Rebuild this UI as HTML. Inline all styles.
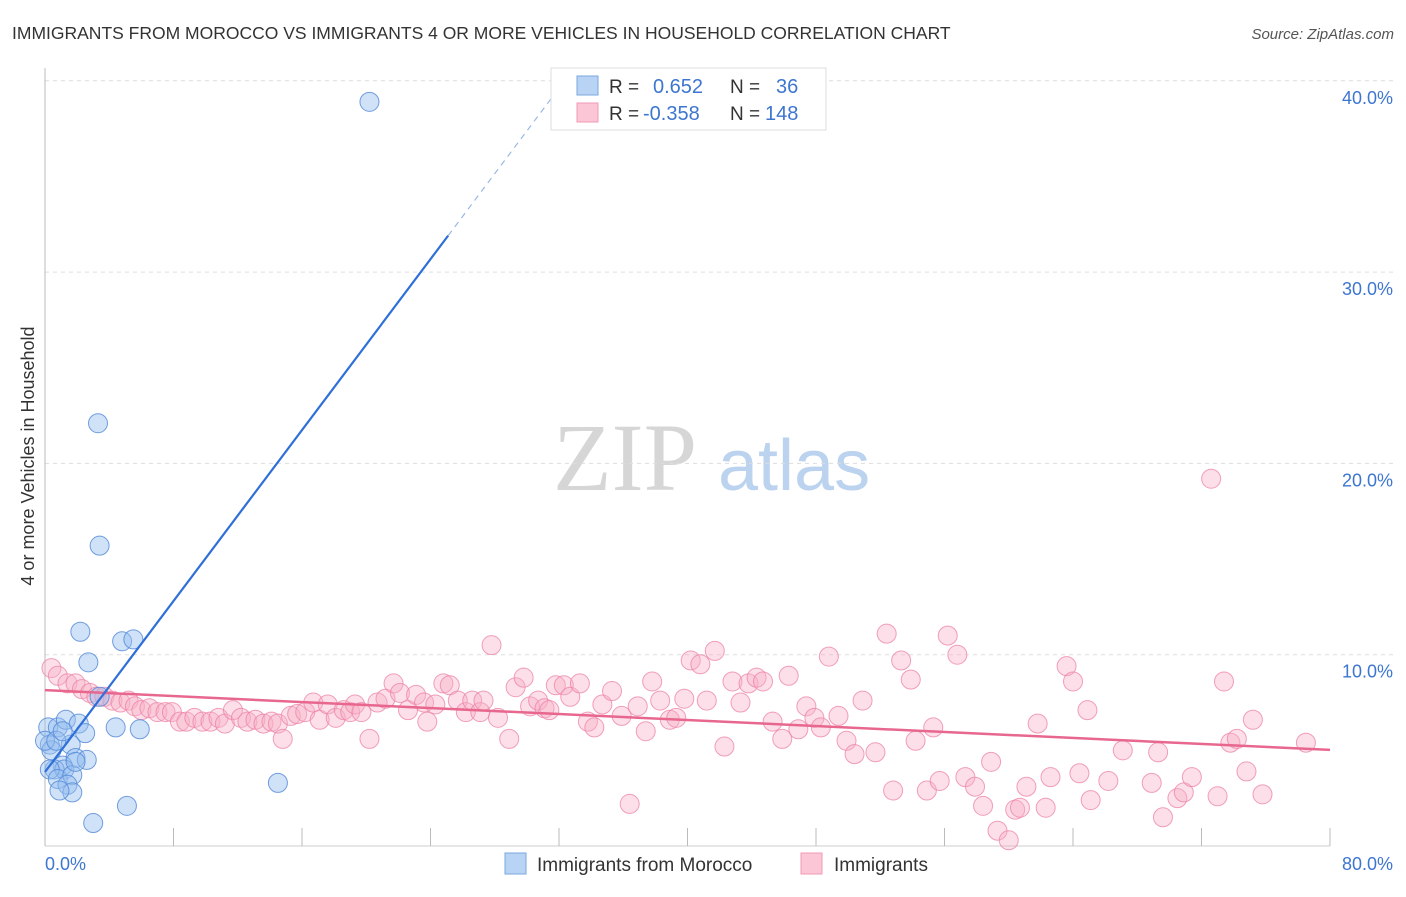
<!DOCTYPE html>
<html><head><meta charset="utf-8"><style>
body{margin:0;background:#fff;font-family:"Liberation Sans",sans-serif}
</style></head><body>
<svg id="chart" width="1406" height="892" xmlns="http://www.w3.org/2000/svg" font-family="Liberation Sans, sans-serif">
<text x="12" y="39" font-size="17.5" fill="#333">IMMIGRANTS FROM MOROCCO VS IMMIGRANTS 4 OR MORE VEHICLES IN HOUSEHOLD CORRELATION CHART</text>
<text x="1394" y="39" font-size="15" fill="#555" font-style="italic" text-anchor="end">Source: ZipAtlas.com</text>
<g>
<text x="553" y="490" font-size="96" font-family="Liberation Serif, serif" fill="#d6d6d6">ZIP</text>
<text x="718" y="490" font-size="72" fill="#bcd3ef">atlas</text>
</g>
<text transform="translate(34,456) rotate(-90)" font-size="18" fill="#333" text-anchor="middle">4 or more Vehicles in Household</text>
<g id="grid"></g><g id="axes"></g><g id="marks"></g>
<g>
<rect x="551" y="68" width="275" height="62" fill="#fff" stroke="#ddd"/>
<rect x="577" y="76" width="21" height="19" fill="#b9d3f5" stroke="#7aa7e0"/>
<rect x="577" y="103" width="21" height="19" fill="#fbc6d6" stroke="#f09ab5"/>
<text x="609" y="93" font-size="19" fill="#333">R =</text>
<text x="653" y="93" font-size="20" fill="#3d76d1">0.652</text>
<text x="730" y="93" font-size="19" fill="#333">N =</text>
<text x="776" y="93" font-size="20" fill="#3d76d1">36</text>
<text x="609" y="120" font-size="19" fill="#333">R =</text>
<text x="643" y="120" font-size="20" fill="#3d76d1">-0.358</text>
<text x="730" y="120" font-size="19" fill="#333">N =</text>
<text x="765" y="120" font-size="20" fill="#3d76d1">148</text>
</g>
<g>
<rect x="505" y="853" width="21" height="21" fill="#b9d3f5" stroke="#7aa7e0"/>
<text x="537" y="871" font-size="19" fill="#333">Immigrants from Morocco</text>
<rect x="801" y="853" width="21" height="21" fill="#fbc6d6" stroke="#f09ab5"/>
<text x="834" y="871" font-size="19" fill="#333">Immigrants</text>
</g>
</svg>
<script>
const yTicks=[10,20,30,40];
const yTickLabels=["10.0%","20.0%","30.0%","40.0%"];
const blueX=[20.2,3.3,3.4,2.2,4.8,5.5,2.7,0.2,0.8,1.3,2.1,2.5,4.4,5.9,0.3,1.6,0.4,1.9,1.1,0.6,1.2,0.3,0.8,1.7,1.4,1.7,0.9,14.5,5.1,3.0,0,3.4,2.6,0.7,1.9,1.1];
const blueY=[38.9,22.1,15.7,11.2,10.7,10.8,9.6,6.2,6.2,6.6,6.4,5.9,6.2,6.1,5.3,5.3,5.0,4.6,4.2,4.0,4.0,4.0,3.5,3.7,3.2,2.8,2.9,3.3,2.1,1.2,5.5,7.8,4.5,5.5,4.4,6.0];
const pinkX=[0.4,0.8,1.4,1.9,2.3,2.8,3.2,3.7,4.2,4.7,5.2,5.6,6.0,6.5,7.0,7.5,7.9,8.4,8.8,9.3,9.8,10.3,10.8,11.2,11.7,12.2,12.6,13.1,13.6,14.1,14.5,14.8,15.3,15.7,16.2,16.7,17.1,17.6,18.1,18.6,19.0,19.3,19.7,20.2,20.7,21.2,21.7,22.1,22.6,23.1,23.6,23.8,24.3,24.8,25.2,25.7,26.2,26.6,27.1,27.3,27.8,28.2,28.9,29.3,29.8,30.2,30.7,31.1,31.4,31.8,32.3,32.7,33.3,33.8,34.2,34.7,35.3,35.9,36.4,36.9,37.4,37.8,38.3,38.9,39.3,39.8,40.2,40.8,41.2,41.7,42.3,42.8,43.3,43.8,44.3,44.7,45.3,45.9,46.3,46.9,47.4,47.9,48.3,48.8,49.4,49.9,50.4,50.9,51.7,52.4,52.8,53.3,53.9,54.2,54.9,55.3,55.7,56.2,56.8,57.3,57.9,58.4,58.9,59.3,60.0,60.4,60.7,61.1,61.8,62.3,62.6,63.6,64.0,64.4,64.9,65.1,66.2,67.1,68.9,69.3,69.6,70.5,70.9,71.4,72.6,73.0,73.4,73.8,74.2,74.8,75.2,75.8,78.5];
const pinkY=[9.3,8.9,8.5,8.5,8.2,8.0,7.8,7.8,7.6,7.5,7.6,7.3,7.1,7.2,7.0,7.0,7.0,6.5,6.5,6.7,6.5,6.5,6.7,6.4,7.1,6.7,6.5,6.6,6.4,6.5,6.4,5.6,6.8,6.9,7.0,7.5,6.6,7.4,6.7,7.1,7.0,7.4,7.0,5.6,7.5,7.7,8.5,8.0,7.1,7.9,7.5,6.5,7.4,8.5,8.4,7.6,7.0,7.6,7.0,7.6,10.5,6.7,5.6,8.3,8.8,7.3,7.6,7.2,7.1,8.4,8.4,7.8,8.5,6.5,6.2,7.4,8.1,6.8,2.2,7.3,6.0,8.6,7.6,6.6,6.7,7.7,9.7,9.5,7.6,10.2,5.2,8.6,7.5,8.5,8.8,8.6,6.5,5.6,8.9,6.1,7.3,6.7,6.2,9.9,6.8,5.5,4.8,7.6,4.9,11.1,2.9,9.7,8.7,5.5,2.9,6.2,3.4,11.0,10.0,3.6,3.1,2.1,4.4,0.8,0.3,1.9,2.0,3.1,6.4,2.0,3.6,9.4,8.6,3.8,7.1,2.4,3.4,5.0,3.3,4.9,1.5,2.5,2.8,3.6,19.2,2.6,8.6,5.4,5.6,3.9,6.6,2.7,5.4];
const blueFit=[3.87,1.117];
const pinkFit=[8.15,-0.0391];
const X0=45,X1=1330,Y0=846,PX=19.13;
const sx=v=>X0+(v/80)*(X1-X0);
const sy=v=>Y0-v*PX;
const NS="http://www.w3.org/2000/svg";
function mk(parent,tag,attrs){const e=document.createElementNS(NS,tag);for(const k in attrs)e.setAttribute(k,attrs[k]);document.getElementById(parent).appendChild(e);return e;}
yTicks.forEach((t,i)=>{
 const g=mk('grid','line',{x1:X0,x2:1393,y1:sy(t),y2:sy(t),stroke:'#ddd','stroke-dasharray':'4,4'});
 
 
 const l=mk('grid','text',{x:1393,y:sy(t)+23,'font-size':18,fill:'#3d76d1','text-anchor':'end'});
 l.textContent=yTickLabels[i];
 
 
});
const ax=mk('axes','line',{x1:X0,x2:X0,y1:68,y2:Y0,stroke:'#bbb'});


const bx=mk('axes','line',{x1:X0,x2:X1,y1:Y0,y2:Y0,stroke:'#ccc'});


for(let i=1;i<=10;i++){const t=mk('axes','line',{x1:sx(i*8),x2:sx(i*8),y1:828,y2:Y0,stroke:'#bbb'});
 
 }
const xl0=mk('axes','text',{x:45,y:870,'font-size':18,fill:'#3d76d1'});xl0.textContent='0.0%';


const xl1=mk('axes','text',{x:1393,y:870,'font-size':18,fill:'#3d76d1','text-anchor':'end'});xl1.textContent='80.0%';


pinkX.forEach((x,i)=>{const c=mk('marks','circle',{cx:sx(x),cy:sy(pinkY[i]),r:9.5,fill:'rgba(248,176,198,0.4)',stroke:'rgba(236,130,165,0.75)','stroke-width':1});
 
 });
blueX.forEach((x,i)=>{const c=mk('marks','circle',{cx:sx(x),cy:sy(blueY[i]),r:9.5,fill:'rgba(150,190,240,0.45)',stroke:'rgba(80,135,215,0.8)','stroke-width':1});
 
 });
const pl=mk('marks','line',{x1:sx(0),y1:sy(pinkFit[0]),x2:sx(80),y2:sy(pinkFit[0]+pinkFit[1]*80),stroke:'#e8678f','stroke-width':2.5});


const bxEnd=25.1;
const bl=mk('marks','line',{x1:sx(0),y1:sy(blueFit[0]),x2:sx(bxEnd),y2:sy(blueFit[0]+blueFit[1]*bxEnd),stroke:'#2e6fd8','stroke-width':2.2});


const bd=mk('marks','line',{x1:sx(bxEnd),y1:sy(blueFit[0]+blueFit[1]*bxEnd),x2:sx(31.8),y2:sy(blueFit[0]+blueFit[1]*31.8),stroke:'#9ab8e6','stroke-width':1.2,'stroke-dasharray':'6,5'});


</script>
</body></html>
